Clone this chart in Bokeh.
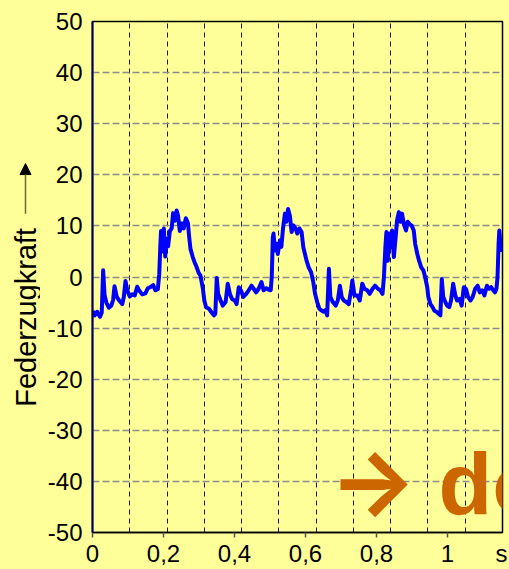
import math
from bokeh.plotting import figure
from bokeh.layouts import row
from bokeh.models import Range1d, FixedTicker, Label, Arrow, NormalHead, ColumnDataSource
from bokeh.embed import file_html
from bokeh.resources import INLINE

# ---------------- data ----------------
time_s = [0.000, 0.006, 0.013, 0.021, 0.026, 0.030, 0.034, 0.039, 0.046, 0.053,
          0.058, 0.062, 0.068, 0.075, 0.084, 0.088, 0.093, 0.098, 0.105, 0.112,
          0.119, 0.126, 0.131, 0.140, 0.149, 0.156, 0.163, 0.171, 0.177, 0.184,
          0.188, 0.191, 0.193, 0.197, 0.201, 0.205, 0.208, 0.213, 0.218, 0.223,
          0.227, 0.232, 0.237, 0.241, 0.246, 0.252, 0.257, 0.263, 0.269, 0.272,
          0.276, 0.282, 0.287, 0.293, 0.299, 0.304, 0.311, 0.315, 0.320, 0.328,
          0.335, 0.342, 0.346, 0.350, 0.354, 0.361, 0.367, 0.375, 0.381, 0.387,
          0.393, 0.401, 0.406, 0.412, 0.418, 0.425, 0.433, 0.440, 0.448, 0.454,
          0.461, 0.468, 0.476, 0.482, 0.490, 0.497, 0.502, 0.505, 0.508, 0.510,
          0.514, 0.518, 0.522, 0.528, 0.532, 0.537, 0.542, 0.546, 0.551, 0.556,
          0.561, 0.566, 0.572, 0.577, 0.583, 0.589, 0.594, 0.603, 0.609, 0.616,
          0.622, 0.627, 0.633, 0.639, 0.644, 0.650, 0.656, 0.661, 0.666, 0.670,
          0.677, 0.685, 0.691, 0.697, 0.702, 0.708, 0.715, 0.722, 0.729, 0.732,
          0.738, 0.746, 0.753, 0.760, 0.766, 0.774, 0.781, 0.789, 0.796, 0.804,
          0.811, 0.817, 0.821, 0.825, 0.828, 0.832, 0.836, 0.839, 0.844, 0.849,
          0.854, 0.858, 0.863, 0.868, 0.872, 0.877, 0.883, 0.888, 0.894, 0.899,
          0.905, 0.909, 0.915, 0.920, 0.926, 0.932, 0.937, 0.943, 0.946, 0.952,
          0.958, 0.963, 0.969, 0.975, 0.980, 0.984, 0.988, 0.994, 0.999, 1.005,
          1.010, 1.016, 1.022, 1.027, 1.034, 1.040, 1.046, 1.052, 1.058, 1.065,
          1.071, 1.078, 1.085, 1.091, 1.098, 1.104, 1.111, 1.117, 1.123, 1.129,
          1.134, 1.138, 1.141, 1.144, 1.146, 1.149, 1.152]

federzugkraft = [-6.6, -7.5, -6.8, -7.8, -7.0, 1.3, -3.5, -5.0, -6.0, -5.6,
                 -4.5, -1.8, -3.8, -4.6, -5.3, -4.0, -0.8, -2.6, -3.8, -3.4,
                 -3.6, -1.9, -2.6, -3.4, -3.2, -2.2, -2.0, -1.6, -2.6, -2.4,
                 0.5, 6.0, 9.0, 5.0, 9.5, 4.0, 7.5, 6.0, 9.0, 9.5,
                 12.5, 11.0, 13.0, 12.0, 9.0, 10.5, 9.5, 11.5, 10.5, 8.0,
                 5.5, 4.0, 3.0, 2.0, 0.8, 0.3, -2.3, -4.6, -5.9, -6.2,
                 -6.9, -7.5, -7.2, -0.2, -3.3, -4.6, -5.6, -4.9, -1.3, -3.3,
                 -4.3, -4.6, -5.3, -2.0, -2.6, -3.9, -3.3, -2.6, -1.7, -2.3,
                 -3.0, -2.3, -1.0, -2.6, -2.2, -2.5, -2.6, 0.0, 7.8, 8.5,
                 5.2, 6.5, 4.5, 7.2, 5.9, 9.7, 12.4, 10.8, 13.3, 12.0,
                 8.8, 10.1, 9.5, 8.5, 9.5, 8.8, 5.8, 3.2, 1.9, 0.9,
                 -1.0, -3.3, -4.9, -6.2, -6.5, -6.8, -6.5, -7.5, 1.6, -3.9,
                 -4.9, -5.6, -4.6, -1.7, -3.9, -4.6, -4.9, -5.3, -2.3, -0.7,
                 -3.6, -3.6, -4.6, -1.3, -2.3, -2.6, -3.3, -2.3, -1.7, -2.3,
                 -2.6, -3.3, 0.0, 5.8, 8.8, 3.2, 8.5, 5.8, 9.1, 3.9,
                 7.8, 11.1, 12.7, 10.8, 12.4, 10.4, 9.1, 10.8, 10.3, 10.1,
                 9.1, 6.5, 4.5, 3.2, 1.9, 1.3, 0.0, -2.0, -3.9, -5.3,
                 -5.9, -6.6, -6.8, -7.2, -7.5, -0.4, -3.9, -4.9, -5.6, -5.9,
                 -4.6, -1.3, -3.6, -4.6, -4.3, -5.6, -2.0, -2.3, -3.9, -4.6,
                 -3.9, -2.3, -1.7, -3.0, -2.6, -3.6, -1.7, -2.3, -2.0, -2.6,
                 -3.0, -2.3, 0.0, 6.5, 9.1, 6.5, 4.9]

x_ticks = [0, 0.2, 0.4, 0.6, 0.8, 1.0]
x_tick_labels = ["0", "0,2", "0,4", "0,6", "0,8", "1"]
x_unit_pos = 1.152
x_unit_label = "s"
y_ticks = [-50, -40, -30, -20, -10, 0, 10, 20, 30, 40, 50]
y_tick_labels = ["-50", "-40", "-30", "-20", "-10", "0", "10", "20", "30", "40", "50"]
x_grid_lines = [0.105, 0.21, 0.315, 0.42, 0.525, 0.63, 0.735, 0.84, 0.945, 1.05]
y_title = "Federzugkraft"

# ---------------- styling ----------------
BG = "#FFFF99"
FONT = "Liberation Sans"
TOP, BOTTOM = 21, 37
LEFT_W = 40

# left strip holding the rotated axis title and its arrow
left = figure(width=LEFT_W, height=569, output_backend="svg", toolbar_location=None,
              x_range=Range1d(0, LEFT_W), y_range=Range1d(-50, 50),
              x_axis_location=None, y_axis_location=None,
              min_border_left=0, min_border_right=0,
              min_border_top=TOP, min_border_bottom=BOTTOM)
left.background_fill_color = BG
left.border_fill_color = BG
left.outline_line_color = None
left.grid.grid_line_color = None
left.add_layout(Label(x=25, y=-25.4, text=y_title, angle=math.pi / 2,
                      text_align="left", text_baseline="middle",
                      text_font=FONT, text_font_size="29px", text_color="black"))
left.add_layout(Arrow(x_start=25, y_start=12.4, x_end=25, y_end=22.2,
                      line_color="#6b6b3a", line_width=1.5,
                      end=NormalHead(size=11, fill_color="black", line_color="black")))

# main chart
p = figure(width=509 - LEFT_W, height=569, output_backend="svg", toolbar_location=None,
           x_range=Range1d(0, 1.155), y_range=Range1d(-50, 50),
           min_border_left=92 - LEFT_W, min_border_right=7, min_border_top=TOP,
           min_border_bottom=BOTTOM)
p.background_fill_color = BG
p.border_fill_color = BG
p.outline_line_color = "black"
p.outline_line_width = 1.5

overrides = {t: l for t, l in zip(x_ticks, x_tick_labels)}
overrides[x_unit_pos] = x_unit_label
p.xaxis.ticker = FixedTicker(ticks=x_ticks + [x_unit_pos], minor_ticks=x_ticks)
p.xaxis.major_label_overrides = overrides
p.xaxis.major_tick_in = 0
p.xaxis.major_tick_out = 0
p.xaxis.minor_tick_in = 0
p.xaxis.minor_tick_out = 5
p.xaxis.minor_tick_line_color = "#555555"
p.xaxis.minor_tick_line_width = 1.5
p.xaxis.axis_line_color = "black"
p.xaxis.axis_line_width = 1.5
p.xaxis.major_label_text_font = FONT
p.xaxis.major_label_text_font_size = "24px"
p.xaxis.major_label_text_color = "black"
p.xaxis.major_label_standoff = 2

p.yaxis.ticker = FixedTicker(ticks=y_ticks)
p.yaxis.major_label_overrides = {t: l for t, l in zip(y_ticks, y_tick_labels)}
p.yaxis.minor_tick_line_color = None
p.yaxis.major_tick_in = 0
p.yaxis.major_tick_out = 0
p.yaxis.axis_line_color = "#000060"
p.yaxis.axis_line_width = 2
p.yaxis.major_label_text_font = FONT
p.yaxis.major_label_text_font_size = "24px"
p.yaxis.major_label_text_color = "black"
p.yaxis.major_label_standoff = 10

p.xgrid.ticker = FixedTicker(ticks=x_grid_lines)
p.xgrid.grid_line_color = "#1a1a1a"
p.xgrid.grid_line_dash = "5 4"
p.xgrid.grid_line_width = 1
p.ygrid.ticker = FixedTicker(ticks=y_ticks)
p.ygrid.grid_line_color = "#8c8c8c"
p.ygrid.grid_line_dash = "7 3"
p.ygrid.grid_line_width = 1.5

src = ColumnDataSource(dict(t=time_s, f=federzugkraft))
p.line("t", "f", source=src, line_color="#0000FF", line_width=4, line_join="round")

# orange overlay text
p.add_layout(Label(x=0.666, y=-39.8, text="\u2192", text_align="left",
                   text_baseline="middle", text_font="Inter",
                   text_font_style="bold", text_font_size="92px",
                   text_color="#CC6600"))
p.add_layout(Label(x=0.975, y=-40.4, text="do", text_align="left",
                   text_baseline="middle", text_font=FONT,
                   text_font_style="bold", text_font_size="88px",
                   text_color="#CC6600"))

layout = row(left, p, spacing=0, styles={"background-color": BG})
open("out.html", "w").write(file_html(layout, INLINE))
